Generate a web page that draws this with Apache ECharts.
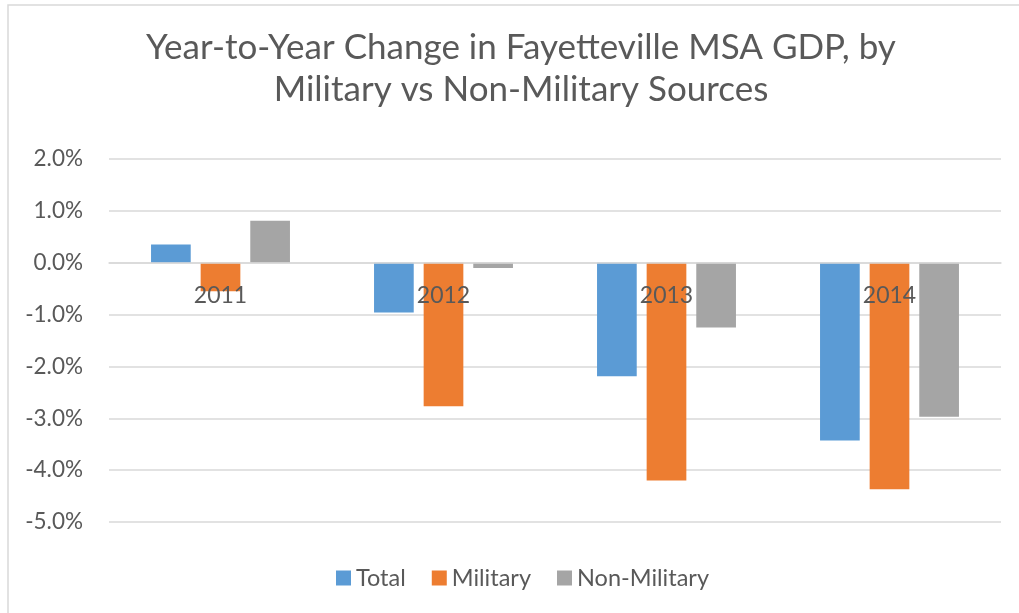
<!DOCTYPE html>
<html>
<head>
<meta charset="utf-8">
<script src="https://cdn.jsdelivr.net/npm/echarts@6/dist/echarts.min.js"></script>
<style>
  html, body { margin: 0; padding: 0; background: #fff; }
  #chart { width: 1019px; height: 613px; }
</style>
</head>
<body>
<div id="chart"></div>
<script>
// year-to-year change, in percent
var years = ["2011", "2012", "2013", "2014"];
var totalVals = [0.35, -0.96, -2.19, -3.43];
var militaryVals = [-0.55, -2.77, -4.2, -4.37];
var nonMilitaryVals = [0.81, -0.1, -1.25, -2.97];

var textColor = "#595959";
var gridColor = "#D9D9D9";
var fontName = "Lato";

var chart = echarts.init(document.getElementById("chart"));

var option = {
  backgroundColor: "#fff",
  textStyle: { fontFamily: fontName },
  graphic: [
    {
      // chart frame (only top and left edges visible)
      type: "rect",
      shape: { x: 8, y: 5, width: 1200, height: 800 },
      style: { fill: "none", stroke: gridColor, lineWidth: 1.5 },
      silent: true
    }
  ],
  title: {
    text: "Year-to-Year Change in Fayetteville MSA GDP, by\nMilitary vs Non-Military Sources",
    left: 521,
    top: 27,
    padding: 0,
    textAlign: "center",
    textStyle: {
      fontFamily: fontName,
      fontSize: 35,
      fontWeight: "normal",
      color: textColor,
      lineHeight: 42
    }
  },
  legend: {
    left: 336,
    top: 566,
    padding: 0,
    icon: "rect",
    itemWidth: 15,
    itemHeight: 15,
    itemGap: 26,
    textStyle: { fontSize: 23.5, color: textColor, fontFamily: fontName },
    data: ["Total", "Military", "Non-Military"]
  },
  grid: {
    left: 109,
    right: 18,
    top: 159,
    bottom: 91,
    containLabel: false
  },
  xAxis: {
    type: "category",
    data: years,
    z: 5,
    axisLine: { onZero: false, lineStyle: { color: gridColor, width: 1.5 } },
    axisTick: { show: false },
    axisLabel: { fontSize: 23, color: textColor, margin: 21, fontFamily: fontName }
  },
  yAxis: {
    type: "value",
    min: -5,
    max: 2,
    interval: 1,
    axisLine: { show: false },
    axisTick: { show: false },
    splitLine: { lineStyle: { color: gridColor, width: 1.5 } },
    axisLabel: {
      fontSize: 22.5,
      color: textColor,
      margin: 26,
      fontFamily: fontName,
      formatter: function (v) { return v.toFixed(1) + "%"; }
    }
  },
  series: [
    {
      name: "Total",
      type: "bar",
      data: totalVals,
      barGap: "25%",
      barCategoryGap: "37.7%",
      itemStyle: { color: "#5B9BD5" }
    },
    {
      name: "Military",
      type: "bar",
      data: militaryVals,
      itemStyle: { color: "#ED7D31" }
    },
    {
      name: "Non-Military",
      type: "bar",
      data: nonMilitaryVals,
      itemStyle: { color: "#A5A5A5" }
    }
  ]
};

chart.setOption(option);

// move the category axis (line + labels) up to the zero line, like Excel does
var zeroY = chart.convertToPixel({ yAxisIndex: 0 }, 0);
var bottomY = chart.convertToPixel({ yAxisIndex: 0 }, -5);
chart.setOption({ xAxis: { offset: zeroY - bottomY } });
</script>
</body>
</html>
